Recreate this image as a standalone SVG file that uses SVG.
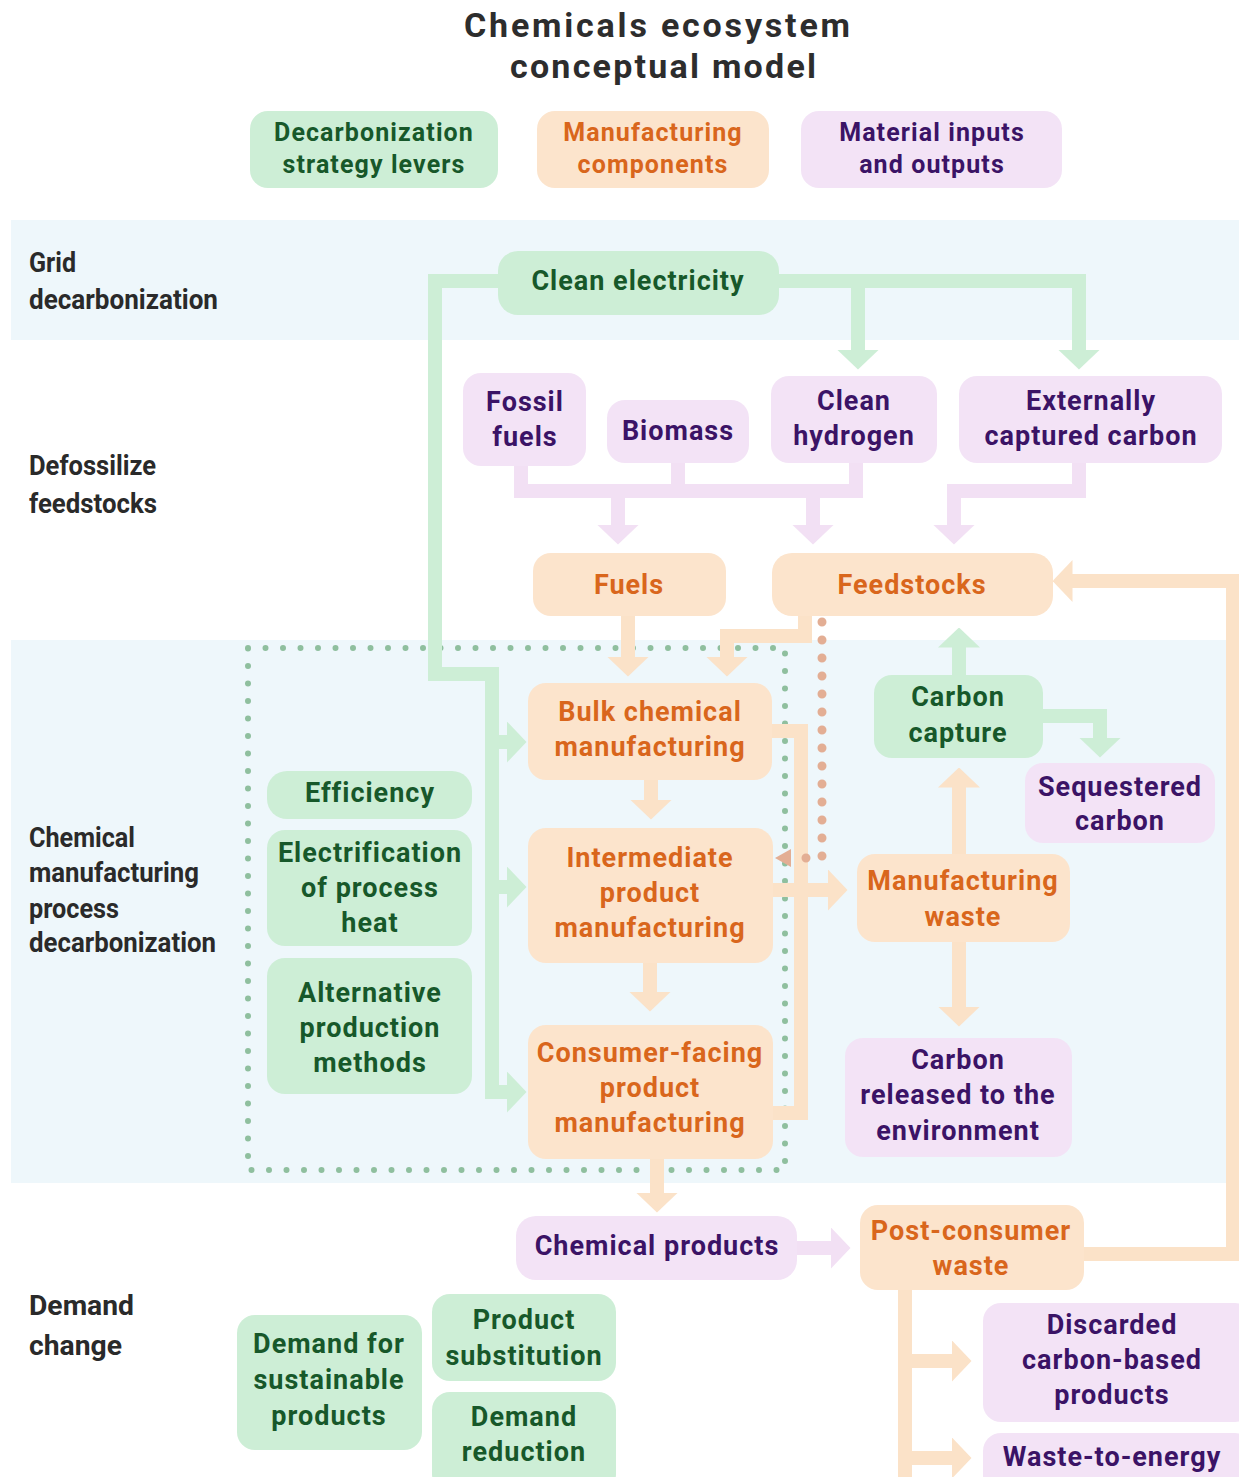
<svg xmlns="http://www.w3.org/2000/svg" width="1239" height="1477" viewBox="0 0 1239 1477">
<style>
text{font-family:Roboto,"Liberation Sans",sans-serif;font-weight:700;text-anchor:middle}
.t{font-size:27px;letter-spacing:1px}
.lg{font-size:25px;letter-spacing:1.1px}
.title{font-size:34px;fill:#2d2d2d}
.sec{font-size:28px;fill:#2a2a2a;text-anchor:start}
.g rect{fill:#cdeed6}.g text{fill:#17582a}
.o rect{fill:#fce4cc}.o text{fill:#d9661c}
.p rect{fill:#f3e3f6}.p text{fill:#3b1366}
.band{fill:#eef7fb}
.cg,.co,.cp{fill:none;stroke-width:14;stroke-linejoin:miter;stroke-linecap:butt}
.cg{stroke:#cdeed6}.co{stroke:#fbe2c8}.cp{stroke:#f2e0f4}
.dotg{fill:none;stroke:#8fbf9e;stroke-width:6;stroke-linecap:round;stroke-dasharray:0 17.5}
.doto{fill:none;stroke:#e3ae94;stroke-width:9;stroke-linecap:round;stroke-dasharray:0 18}
</style>
<defs>
<marker id="ag" markerUnits="userSpaceOnUse" viewBox="0 0 20 42" refX="0.5" refY="21" markerWidth="20" markerHeight="42" orient="auto"><path d="M0,0 L20,21 L0,42 z" fill="#cdeed6"/></marker>
<marker id="ao" markerUnits="userSpaceOnUse" viewBox="0 0 20 42" refX="0.5" refY="21" markerWidth="20" markerHeight="42" orient="auto"><path d="M0,0 L20,21 L0,42 z" fill="#fbe2c8"/></marker>
<marker id="ap" markerUnits="userSpaceOnUse" viewBox="0 0 20 42" refX="0.5" refY="21" markerWidth="20" markerHeight="42" orient="auto"><path d="M0,0 L20,21 L0,42 z" fill="#f2e0f4"/></marker>
</defs>
<rect width="1239" height="1477" fill="#ffffff"/>
<!-- bands -->
<rect class="band" x="11" y="220" width="1228" height="120"/>
<rect class="band" x="11" y="640" width="1216" height="543"/>
<!-- title -->
<g id="title">
<text class="title" x="657" y="37" textLength="386" lengthAdjust="spacing">Chemicals ecosystem</text>
<text class="title" x="663" y="78" textLength="306" lengthAdjust="spacing">conceptual model</text>
</g>
<!-- legend -->
<g id="legend-levers" class="g"><rect x="250" y="111" width="248" height="77" rx="18"/><text class="lg" x="374" y="141">Decarbonization</text><text class="lg" x="374" y="173">strategy levers</text></g>
<g id="legend-components" class="o"><rect x="537" y="111" width="232" height="77" rx="18"/><text class="lg" x="653" y="141">Manufacturing</text><text class="lg" x="653" y="173">components</text></g>
<g id="legend-materials" class="p"><rect x="801" y="111" width="261" height="77" rx="18"/><text class="lg" x="932" y="141">Material inputs</text><text class="lg" x="932" y="173">and outputs</text></g>
<!-- section labels -->
<g id="sections">
<text class="sec" x="29" y="272" textLength="47" lengthAdjust="spacingAndGlyphs">Grid</text>
<text class="sec" x="29" y="309" textLength="189" lengthAdjust="spacingAndGlyphs">decarbonization</text>
<text class="sec" x="29" y="475" textLength="127" lengthAdjust="spacingAndGlyphs">Defossilize</text>
<text class="sec" x="29" y="513" textLength="128" lengthAdjust="spacingAndGlyphs">feedstocks</text>
<text class="sec" x="29" y="847" textLength="106" lengthAdjust="spacingAndGlyphs">Chemical</text>
<text class="sec" x="29" y="882" textLength="170" lengthAdjust="spacingAndGlyphs">manufacturing</text>
<text class="sec" x="29" y="918" textLength="90" lengthAdjust="spacingAndGlyphs">process</text>
<text class="sec" x="29" y="952" textLength="187" lengthAdjust="spacingAndGlyphs">decarbonization</text>
<text class="sec" x="29" y="1315" textLength="105" lengthAdjust="spacingAndGlyphs">Demand</text>
<text class="sec" x="29" y="1355" textLength="93" lengthAdjust="spacingAndGlyphs">change</text>
</g>
<!-- dotted process boundary -->
<rect id="process-boundary" class="dotg" x="248" y="648" width="537" height="522"/>
<!-- connectors -->
<g id="connectors">
<path class="cg" d="M500,281 H435 V674 H492 V1092 H507" marker-end="url(#ag)"/>
<path class="cg" d="M492,742 H507" marker-end="url(#ag)"/>
<path class="cg" d="M492,887 H507" marker-end="url(#ag)"/>
<path class="cg" d="M776,281 H1079 V350" marker-end="url(#ag)"/>
<path class="cg" d="M858,281 V350" marker-end="url(#ag)"/>
<path class="cg" d="M959,677 V647" marker-end="url(#ag)"/>
<path class="cg" d="M1041,716 H1100 V738" marker-end="url(#ag)"/>
<path class="cp" d="M521,464 V491 H856 V461"/>
<path class="cp" d="M678,461 V491"/>
<path class="cp" d="M618,491 V525" marker-end="url(#ap)"/>
<path class="cp" d="M813,491 V525" marker-end="url(#ap)"/>
<path class="cp" d="M1079,461 V491 H954 V525" marker-end="url(#ap)"/>
<path class="cp" d="M795,1248 H831" marker-end="url(#ap)"/>
<path class="co" d="M628,614 V657" marker-end="url(#ao)"/>
<path class="co" d="M805,614 V636 H727 V657" marker-end="url(#ao)"/>
<path class="co" d="M651,778 V800" marker-end="url(#ao)"/>
<path class="co" d="M650,961 V992" marker-end="url(#ao)"/>
<path class="co" d="M657,1158 V1193" marker-end="url(#ao)"/>
<path class="co" d="M770,731 H801 V1113 H770"/>
<path class="co" d="M770,890 H828" marker-end="url(#ao)"/>
<path class="co" d="M959,856 V787" marker-end="url(#ao)"/>
<path class="co" d="M959,940 V1007" marker-end="url(#ao)"/>
<path class="co" d="M1082,1254 H1233 V581 H1072" marker-end="url(#ao)"/>
<path class="co" d="M905,1288 V1477"/>
<path class="co" d="M905,1361 H952" marker-end="url(#ao)"/>
<path class="co" d="M905,1458 H952" marker-end="url(#ao)"/>
<path class="doto" d="M822,622 V858 H796"/>
<polygon points="775,858 791,849 791,867" fill="#e3ae94"/>
</g>
<!-- nodes -->
<g id="clean-electricity" class="g"><rect x="498" y="251" width="281" height="64" rx="20"/><text class="t" x="638" y="290">Clean electricity</text></g>
<g id="fossil-fuels" class="p"><rect x="463" y="373" width="123" height="93" rx="18"/><text class="t" x="525" y="411">Fossil</text><text class="t" x="525" y="446">fuels</text></g>
<g id="biomass" class="p"><rect x="607" y="400" width="142" height="63" rx="18"/><text class="t" x="678" y="440">Biomass</text></g>
<g id="clean-hydrogen" class="p"><rect x="771" y="376" width="166" height="87" rx="18"/><text class="t" x="854" y="410">Clean</text><text class="t" x="854" y="445">hydrogen</text></g>
<g id="externally-captured-carbon" class="p"><rect x="959" y="376" width="263" height="87" rx="18"/><text class="t" x="1091" y="410">Externally</text><text class="t" x="1091" y="445">captured carbon</text></g>
<g id="fuels" class="o"><rect x="533" y="553" width="193" height="63" rx="18"/><text class="t" x="629" y="594">Fuels</text></g>
<g id="feedstocks" class="o"><rect x="772" y="553" width="281" height="63" rx="20"/><text class="t" x="912" y="594">Feedstocks</text></g>
<g id="carbon-capture" class="g"><rect x="874" y="675" width="169" height="83" rx="18"/><text class="t" x="958" y="706">Carbon</text><text class="t" x="958" y="742">capture</text></g>
<g id="sequestered-carbon" class="p"><rect x="1025" y="763" width="190" height="80" rx="18"/><text class="t" x="1120" y="796">Sequestered</text><text class="t" x="1120" y="830">carbon</text></g>
<g id="bulk-chemical-manufacturing" class="o"><rect x="528" y="683" width="244" height="97" rx="18"/><text class="t" x="650" y="721">Bulk chemical</text><text class="t" x="650" y="756">manufacturing</text></g>
<g id="efficiency" class="g"><rect x="267" y="771" width="205" height="48" rx="20"/><text class="t" x="370" y="802">Efficiency</text></g>
<g id="electrification" class="g"><rect x="267" y="830" width="205" height="116" rx="18"/><text class="t" x="370" y="862">Electrification</text><text class="t" x="370" y="897">of process</text><text class="t" x="370" y="932">heat</text></g>
<g id="alternative-production" class="g"><rect x="267" y="958" width="205" height="136" rx="18"/><text class="t" x="370" y="1002">Alternative</text><text class="t" x="370" y="1037">production</text><text class="t" x="370" y="1072">methods</text></g>
<g id="intermediate-product-manufacturing" class="o"><rect x="528" y="828" width="245" height="135" rx="18"/><text class="t" x="650" y="867">Intermediate</text><text class="t" x="650" y="902">product</text><text class="t" x="650" y="937">manufacturing</text></g>
<g id="manufacturing-waste" class="o"><rect x="857" y="854" width="213" height="88" rx="18"/><text class="t" x="963" y="890">Manufacturing</text><text class="t" x="963" y="926">waste</text></g>
<g id="consumer-facing-manufacturing" class="o"><rect x="528" y="1025" width="245" height="134" rx="18"/><text class="t" x="650" y="1062">Consumer-facing</text><text class="t" x="650" y="1097">product</text><text class="t" x="650" y="1132">manufacturing</text></g>
<g id="carbon-released" class="p"><rect x="845" y="1038" width="227" height="119" rx="18"/><text class="t" x="958" y="1069">Carbon</text><text class="t" x="958" y="1104">released to the</text><text class="t" x="958" y="1140">environment</text></g>
<g id="chemical-products" class="p"><rect x="516" y="1216" width="281" height="64" rx="20"/><text class="t" x="657" y="1255">Chemical products</text></g>
<g id="post-consumer-waste" class="o"><rect x="860" y="1205" width="224" height="85" rx="18"/><text class="t" x="971" y="1240">Post-consumer</text><text class="t" x="971" y="1275">waste</text></g>
<g id="demand-sustainable" class="g"><rect x="237" y="1315" width="185" height="135" rx="18"/><text class="t" x="329" y="1353">Demand for</text><text class="t" x="329" y="1389">sustainable</text><text class="t" x="329" y="1425">products</text></g>
<g id="product-substitution" class="g"><rect x="432" y="1294" width="184" height="87" rx="18"/><text class="t" x="524" y="1329">Product</text><text class="t" x="524" y="1365">substitution</text></g>
<g id="demand-reduction" class="g"><rect x="432" y="1392" width="184" height="100" rx="18"/><text class="t" x="524" y="1426">Demand</text><text class="t" x="524" y="1461">reduction</text></g>
<g id="discarded-products" class="p"><rect x="983" y="1303" width="270" height="119" rx="18"/><text class="t" x="1112" y="1334">Discarded</text><text class="t" x="1112" y="1369">carbon-based</text><text class="t" x="1112" y="1404">products</text></g>
<g id="waste-to-energy" class="p"><rect x="983" y="1433" width="270" height="60" rx="18"/><text class="t" x="1112" y="1466">Waste-to-energy</text></g>
</svg>
